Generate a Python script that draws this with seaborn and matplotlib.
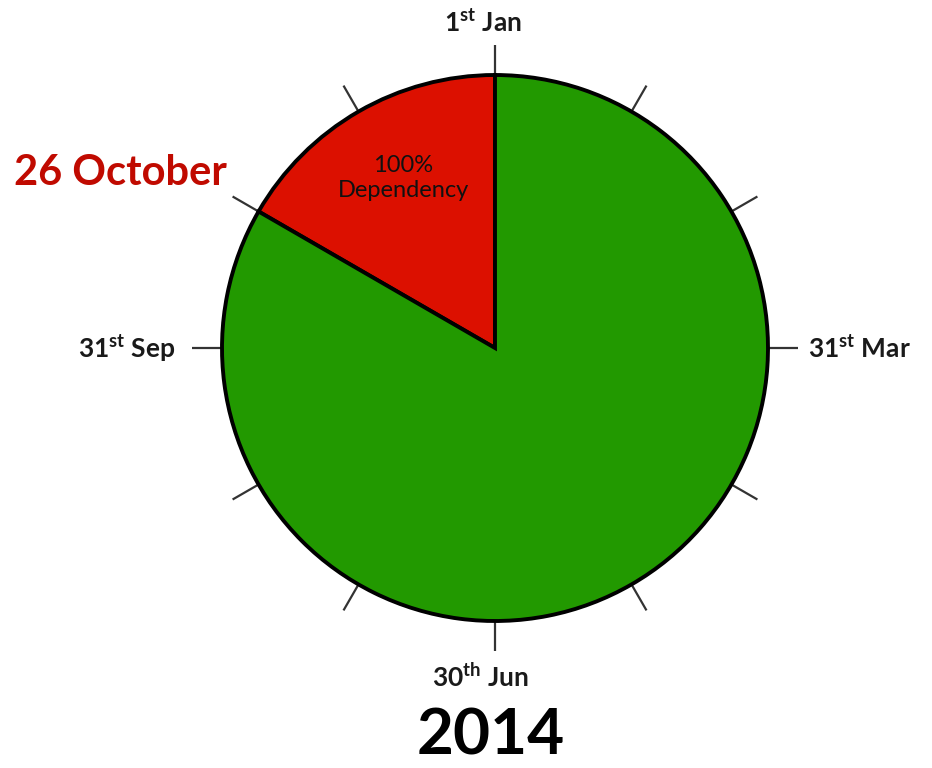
import numpy as np
import matplotlib
matplotlib.use("Agg")
import matplotlib.pyplot as plt
import seaborn as sns

sns.set_theme(style="white")
plt.rcParams['font.family'] = ['Lato', 'DejaVu Sans']
plt.rcParams['mathtext.fontset'] = 'custom'
plt.rcParams['mathtext.rm'] = 'Lato'
plt.rcParams['mathtext.bf'] = 'Lato:bold'

# Data (degrees of the year circle)
segments = ["100%\nDependency", "Rest of year"]
shares = [60, 300]
colors = ["#DC1000", "#229900"]
tick_angles = list(range(0, 360, 30))
cardinal_labels = ["1$^{\\mathbf{st}}$ Jan", "31$^{\\mathbf{st}}$ Mar",
                   "30$^{\\mathbf{th}}$ Jun", "31$^{\\mathbf{st}}$ Sep"]
highlight_label = "26 October"
year_label = "2014"

fig = plt.figure(figsize=(9.32, 7.68), dpi=100)
ax = fig.add_axes([0, 0, 1, 1])

cx, cy, R = 495, 420, 273
wedges, _ = ax.pie(shares, colors=colors, startangle=90, counterclock=True,
                   center=(cx, cy), radius=R, frame=True,
                   wedgeprops=dict(edgecolor="black", linewidth=2.8))
ax.set_xlim(0, 932)
ax.set_ylim(0, 768)
ax.axis("off")

for a in tick_angles:
    t = np.deg2rad(a)
    ax.plot([cx + R * np.cos(t), cx + (R + 30) * np.cos(t)],
            [cy + R * np.sin(t), cy + (R + 30) * np.sin(t)],
            color="#333333", lw=1.6, solid_capstyle="butt", zorder=0)

txt_kw = dict(fontsize=19, fontweight="bold", color="#1a1a1a")
ax.text(cx - 12, 746, cardinal_labels[0], ha="center", va="center", **txt_kw)
ax.text(808, cy, cardinal_labels[1], ha="left", va="center", **txt_kw)
ax.text(480, 91, cardinal_labels[2], ha="center", va="center", **txt_kw)
ax.text(176, cy, cardinal_labels[3], ha="right", va="center", **txt_kw)

ax.text(14, 595, highlight_label, ha="left", va="center", fontsize=30,
        fontweight="bold", color="#C00A00")
ax.text(403, 590, segments[0], ha="center", va="center", fontsize=17,
        color="#111111", linespacing=1.25)
ax.text(491, 32, year_label, ha="center", va="center", fontsize=46,
        fontweight="bold", color="#000000")

fig.savefig("out.png", dpi=100)
